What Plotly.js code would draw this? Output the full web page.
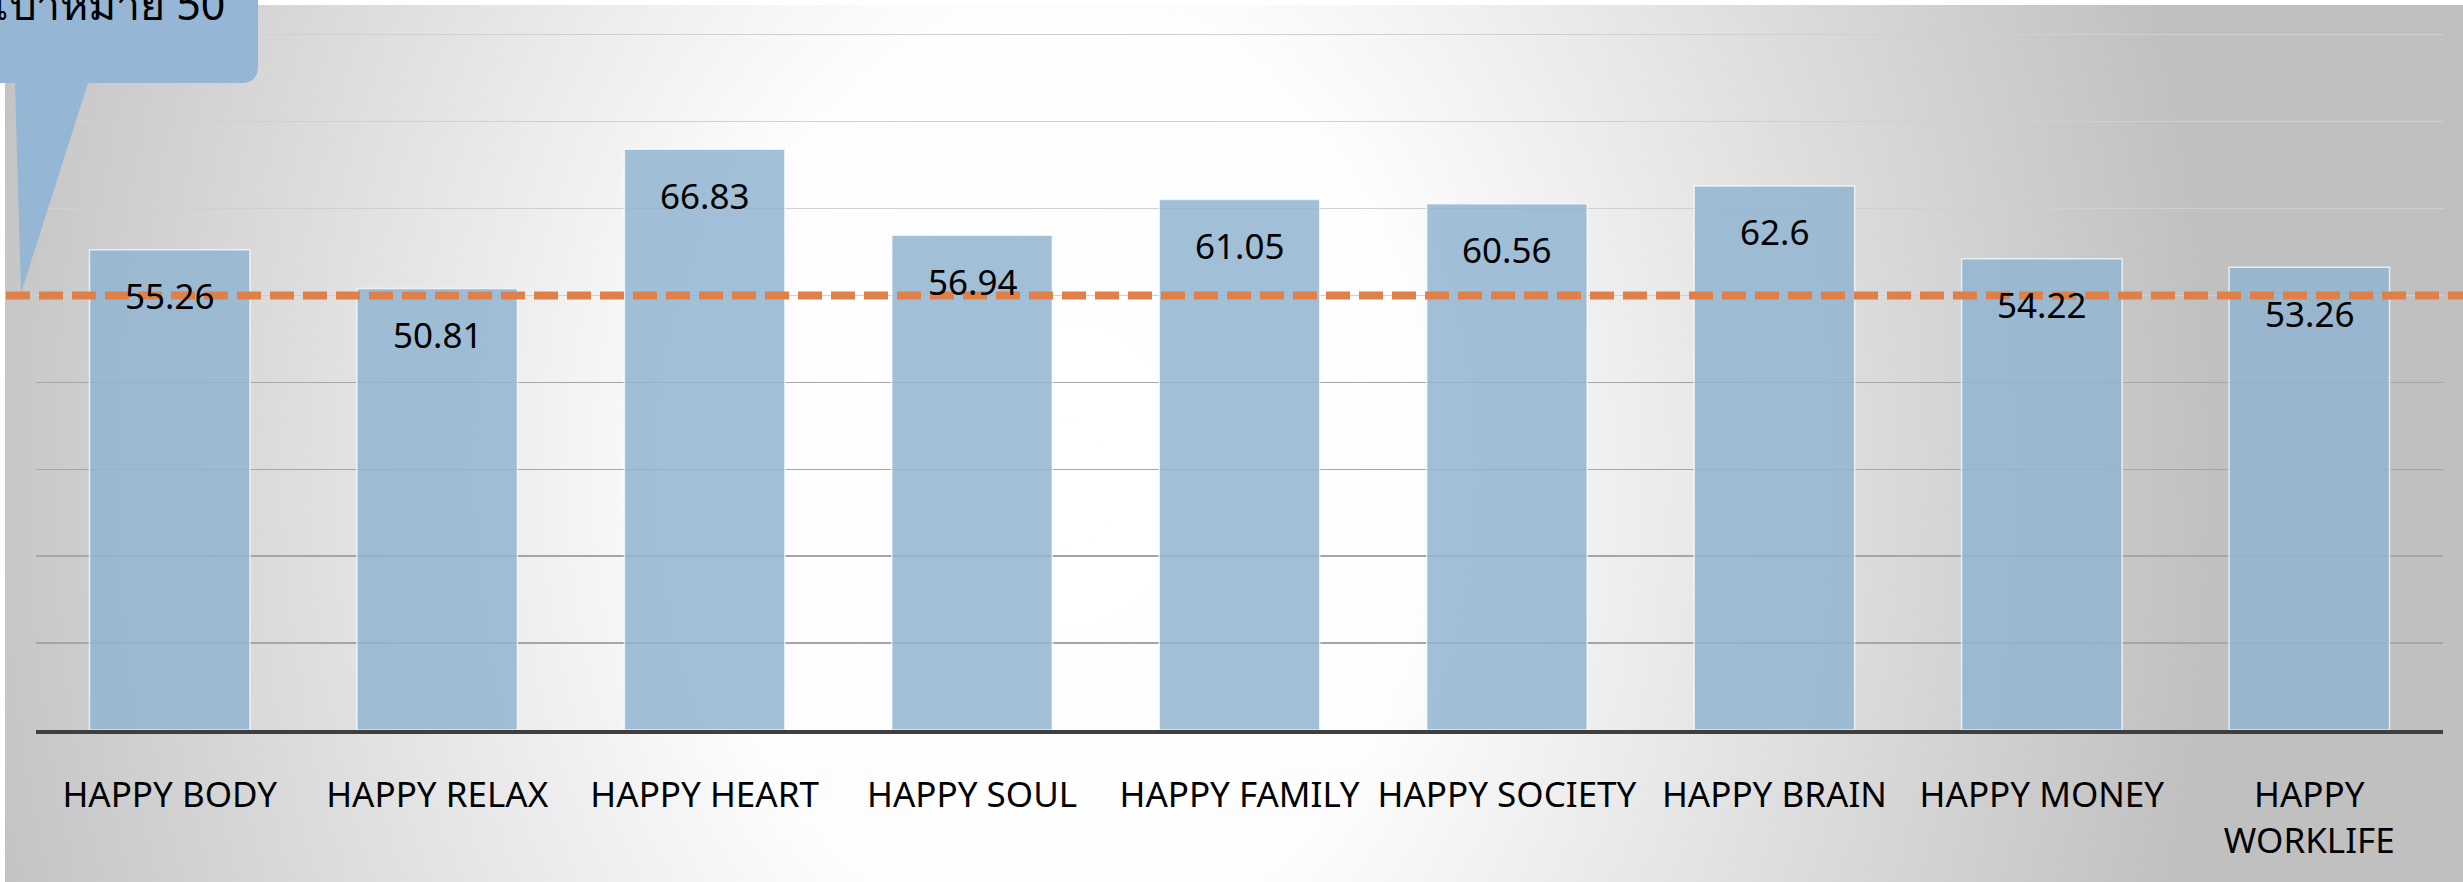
<!DOCTYPE html>
<html>
<head>
<meta charset="utf-8">
<script src="https://cdn.plot.ly/plotly-3.0.1.min.js"></script>
<style>
  html, body { margin: 0; padding: 0; background: #ffffff; }
  #bg { position: absolute; left: 5px; top: 5px; width: 2458px; height: 877px;
        background: radial-gradient(ellipse 1150px 1500px at 1060px 470px, #ffffff 0%, #fdfdfd 32%, #c0c0c0 100%); }
  #chart { position: absolute; left: 0; top: 0; width: 2463px; height: 882px; }
</style>
</head>
<body>
<div id="bg"></div>
<div id="chart"></div>
<script>
// ---- data ----
const categories = ["HAPPY BODY", "HAPPY RELAX", "HAPPY HEART", "HAPPY SOUL", "HAPPY FAMILY",
                    "HAPPY SOCIETY", "HAPPY BRAIN", "HAPPY MONEY", "HAPPY WORKLIFE"];
const tickLabels = ["HAPPY BODY", "HAPPY RELAX", "HAPPY HEART", "HAPPY SOUL", "HAPPY FAMILY",
                    "HAPPY SOCIETY", "HAPPY BRAIN", "HAPPY MONEY", "HAPPY<br>WORKLIFE"];
const values = [55.26, 50.81, 66.83, 56.94, 61.05, 60.56, 62.6, 54.22, 53.26];
const targetValue = 50;
const targetLabel = "เป้าหมาย 50";
const upperGridVals = [50, 60, 70, 80];
const lowerGridVals = [10, 20, 30, 40];

// ---- geometry helpers for the decorative callout ----
const W = 2463, H = 882;
const M = {l: 36, r: 20, t: 33, b: 152};
const PW = W - M.l - M.r, PH = H - M.t - M.b;
const px = x => (x - M.l) / PW;
const py = y => (H - M.b - y) / PH;

const font = "'Noto Sans', 'Open Sans', 'DejaVu Sans', sans-serif";

const barTrace = {
  type: 'bar',
  x: categories,
  y: values,
  marker: { color: 'rgba(146,180,208,0.86)', line: { color: 'rgba(255,255,255,0.7)', width: 1.5 } },
  hoverinfo: 'x+y',
  showlegend: false
};

const labelAnnotations = categories.map((c, i) => ({
  x: c, y: values[i], xref: 'x', yref: 'y',
  text: String(values[i]),
  showarrow: false, yanchor: 'middle', xanchor: 'center', yshift: -46,
  font: { family: font, size: 35, color: '#000000' }
}));

const calloutPath =
  'M ' + px(-40) + ' ' + py(-40) +
  ' L ' + px(258) + ' ' + py(-40) +
  ' L ' + px(258) + ' ' + py(66) +
  ' Q ' + px(258) + ' ' + py(83) + ' ' + px(241) + ' ' + py(83) +
  ' L ' + px(88) + ' ' + py(83) +
  ' L ' + px(21) + ' ' + py(293) +
  ' L ' + px(15) + ' ' + py(83) +
  ' L ' + px(-40) + ' ' + py(83) + ' Z';

const layout = {
  width: W, height: H,
  margin: M,
  paper_bgcolor: 'rgba(0,0,0,0)',
  plot_bgcolor: 'rgba(0,0,0,0)',
  bargap: 0.4,
  xaxis: {
    type: 'category',
    tickvals: categories,
    ticktext: tickLabels,
    tickangle: 0,
    ticks: '',
    ticklabelstandoff: 31,
    showline: true, linecolor: '#3f3f3f', linewidth: 4,
    showgrid: false, zeroline: false,
    tickfont: { family: font, size: 35, color: '#000000' }
  },
  yaxis: {
    range: [0, 80.2],
    tickmode: 'array',
    tickvals: upperGridVals,
    showticklabels: false, ticks: '',
    gridcolor: '#d0d0d0', gridwidth: 1.5,
    minor: { tickmode: 'array', tickvals: lowerGridVals, showgrid: true,
             gridcolor: '#a6a6a6', gridwidth: 1.5, ticks: '' },
    zeroline: false, showline: false,
    fixedrange: true
  },
  shapes: [
    {
      type: 'line', xref: 'paper', yref: 'y',
      x0: px(6), x1: px(W), y0: targetValue, y1: targetValue,
      line: { color: '#df8048', width: 8, dash: '24px,9px' },
      layer: 'above'
    },
    {
      type: 'path', xref: 'paper', yref: 'paper',
      path: calloutPath,
      fillcolor: '#95b6d4', line: { width: 0 },
      layer: 'above'
    }
  ],
  annotations: labelAnnotations.concat([{
    xref: 'paper', yref: 'paper',
    x: px(-8), y: py(3), xanchor: 'left', yanchor: 'middle',
    text: targetLabel, showarrow: false,
    font: { family: font, size: 43, color: '#000000' }
  }])
};

Plotly.newPlot('chart', [barTrace], layout, { displayModeBar: false, staticPlot: true });
</script>
</body>
</html>
